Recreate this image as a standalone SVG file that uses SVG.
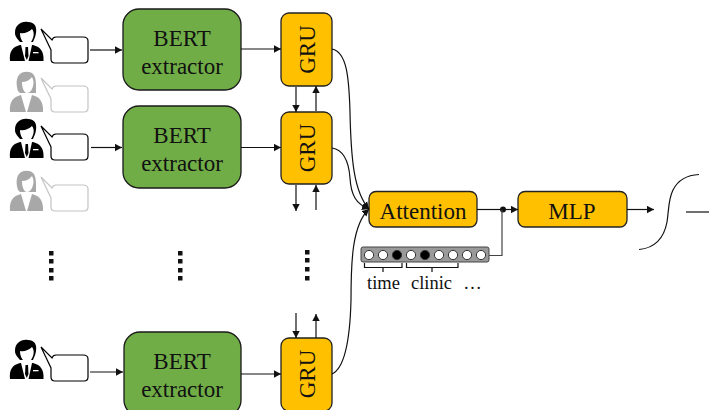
<svg xmlns="http://www.w3.org/2000/svg" width="709" height="410" viewBox="0 0 709 410">
<style>
text{font-family:"Liberation Serif","Times New Roman",serif;fill:#111;text-anchor:middle}
.t{font-size:23px}
.s{font-size:18.500px}
.bert{fill:#70AD47;stroke:#1a1a1a;stroke-width:1.3}
.or{fill:#FFC000;stroke:#222;stroke-width:1.3}
.c{fill:none;stroke:#111;stroke-width:1.2}
.g{fill:none;stroke:#444;stroke-width:1.2}
.a{fill:none;stroke:#111;stroke-width:1.2;marker-end:url(#ah)}
.dot{fill:#111}
</style>
<defs>
<marker id="ah" markerUnits="userSpaceOnUse" markerWidth="8" markerHeight="8" refX="7" refY="4" orient="auto"><path d="M0,0.3 L7,4 L0,7.700Z" fill="#111"/></marker>
<g id="man">
<path d="M10,61 C9,52 12,47 20,45 L33,45 C41,47 44,52 43.500,61Z" fill="#000"/>
<path d="M15,33 C15,25 21,21 28,22 C35,22 37,27 36,33 C35.500,37 34,39 33,42 L20,42 C18,39 15,37 15,33Z" fill="#000"/>
<path d="M20,33 C24,34 29,32 32,29 C33.500,31 34,33 33.500,36 C32.500,41 30,44 27,44 C23,44 20,39 20,33Z" fill="#fff"/>
<path d="M21,45 L32,45 L28.500,61 L25,61Z" fill="#fff"/>
<path d="M25.500,47 L28,47 L28.500,56 L26.800,60 L25,56Z" fill="#000"/>
<rect x="33" y="52" width="5.500" height="1.300" fill="#fff"/>
</g>
<g id="woman">
<path d="M10,63 C9,53 13,48 21,46 L32,46 C40,48 43.500,53 43,63Z" fill="#a8a8a8"/>
<path d="M18,42 C16,36 16,30 19,26 C22,22 30,22 33,25 C36,28 36,34 36,38 C36,40 36,42 36,44 L20,44Z" fill="#a8a8a8"/>
<path d="M22,33 C26,33 30,31 32,28 C33.500,31 34,34 33,37 C32,41 30,44 27,44 C24,44 22,39 22,33Z" fill="#fff"/>
<path d="M21,46 L32,46 L27,63 L26,63Z" fill="#fff"/>
</g>
<g id="bubble">
<path d="M41,29 L52,40 Q53,37 56,37 L83,37 Q88,37 88,41 L88,59 Q88,63 84,63 L55,63 Q51,63 51,59 L51,50 Z" fill="#fff" stroke="currentColor" stroke-width="1.200"/>
</g>
</defs>
<g id="speaker-1" color="#000"><use href="#man"/><use href="#bubble"/></g>
<g id="speaker-2" color="#c4c4c4" transform="translate(0,49)"><use href="#woman"/><use href="#bubble"/></g>
<g id="speaker-3" color="#000" transform="translate(0,97)"><use href="#man"/><use href="#bubble"/></g>
<g id="speaker-4" color="#c4c4c4" transform="translate(0,148)"><use href="#woman"/><use href="#bubble"/></g>
<g id="speaker-5" color="#000" transform="translate(0,318)"><use href="#man"/><use href="#bubble"/></g>

<g id="bert-1"><rect class="bert" x="123" y="9" width="118" height="81" rx="16"/><text class="t" x="182" y="46">BERT</text><text class="t" x="182" y="74">extractor</text></g>
<g id="bert-2"><rect class="bert" x="123" y="106" width="118" height="82" rx="16"/><text class="t" x="182" y="143">BERT</text><text class="t" x="182" y="171">extractor</text></g>
<g id="bert-3"><rect class="bert" x="124" y="332" width="117" height="84" rx="16"/><text class="t" x="182" y="369">BERT</text><text class="t" x="182" y="397">extractor</text></g>

<g id="gru-1"><rect class="or" x="281" y="13" width="51" height="73" rx="8"/><text class="t" transform="translate(315,49.500) rotate(-90)">GRU</text></g>
<g id="gru-2"><rect class="or" x="281" y="112" width="51" height="72" rx="8"/><text class="t" transform="translate(315,148) rotate(-90)">GRU</text></g>
<g id="gru-3"><rect class="or" x="281" y="338" width="51" height="73" rx="8"/><text class="t" transform="translate(315,374) rotate(-90)">GRU</text></g>

<g id="attention"><rect class="or" x="369" y="191.500" width="108" height="35.500" rx="7"/><text class="t" x="423" y="219">Attention</text></g>
<g id="mlp"><rect class="or" x="518" y="191.500" width="109" height="35.500" rx="7"/><text class="t" x="572" y="219">MLP</text></g>

<g id="features">
<rect x="361" y="247" width="128" height="15" rx="2" fill="#9a9a9a" stroke="#444" stroke-width="1"/>
<g stroke="#333" stroke-width="1">
<circle cx="369" cy="255" r="4.600" fill="#fff"/><circle cx="383" cy="255" r="4.600" fill="#fff"/><circle cx="397" cy="255" r="4.600" fill="#000"/><circle cx="411" cy="255" r="4.600" fill="#fff"/><circle cx="425" cy="255" r="4.600" fill="#000"/><circle cx="439" cy="255" r="4.600" fill="#fff"/><circle cx="453" cy="255" r="4.600" fill="#fff"/><circle cx="467" cy="255" r="4.600" fill="#fff"/><circle cx="481" cy="255" r="4.600" fill="#fff"/>
</g>
<path class="c" d="M364.500,263 V267.500 H402 V263 M383,267.500 V272 M406.500,263 V267.500 H458 V263 M432,267.500 V272"/>
<text class="s" x="383.500" y="289">time</text><text class="s" x="431.500" y="289">clinic</text><text class="s" x="472.500" y="289">…</text>
</g>

<g id="connectors">
<path class="a" d="M90,50 H122"/>
<path class="a" d="M91,147.500 H122"/>
<path class="a" d="M90,372 H123"/>
<path class="a" d="M241,49 H281"/>
<path class="a" d="M241,147.500 H281"/>
<path class="a" d="M241,374 H281"/>
<path class="a" d="M296,87 V112"/>
<path class="a" d="M316,111 V86"/>
<path class="a" d="M296,185 V211"/>
<path class="a" d="M316,210 V185"/>
<path class="a" d="M296,313 V338"/>
<path class="a" d="M316,338 V314"/>
<path class="a" d="M332,49 C347,52 349,78 350,112 C351,160 354,192 369,209"/>
<path class="a" d="M332,148 C345,150 349,165 350,178 C351,195 356,204 369,209"/>
<path class="a" d="M332,374 C345,368 350,340 351,300 C351,262 352,225 369,209"/>
<path class="c" d="M477,209.500 H503"/>
<path class="a" d="M503,209.500 H518"/>
<circle class="dot" cx="503" cy="209.500" r="3"/>
<path class="g" d="M489,255.500 H502 V210"/>
<path class="a" d="M627,209.500 H654"/>
<path class="c" d="M639,249.500 C655,248 664,238 667,222 C669,210 668,200 673,190 C678,180 688,175 699,174.500"/>
<path class="c" d="M686,212 H709"/>
</g>
<g id="ellipsis" fill="#111">
<rect x="49" y="251" width="4.500" height="4.500"/><rect x="49" y="259" width="4.500" height="4.500"/><rect x="49" y="268" width="4.500" height="4.500"/><rect x="49" y="276" width="4.500" height="4.500"/>
<rect x="178" y="251" width="4.500" height="4.500"/><rect x="178" y="259" width="4.500" height="4.500"/><rect x="178" y="268" width="4.500" height="4.500"/><rect x="178" y="276" width="4.500" height="4.500"/>
<rect x="305" y="250" width="4.500" height="4.500"/><rect x="305" y="258" width="4.500" height="4.500"/><rect x="305" y="267" width="4.500" height="4.500"/><rect x="305" y="276" width="4.500" height="4.500"/>
</g>
</svg>
